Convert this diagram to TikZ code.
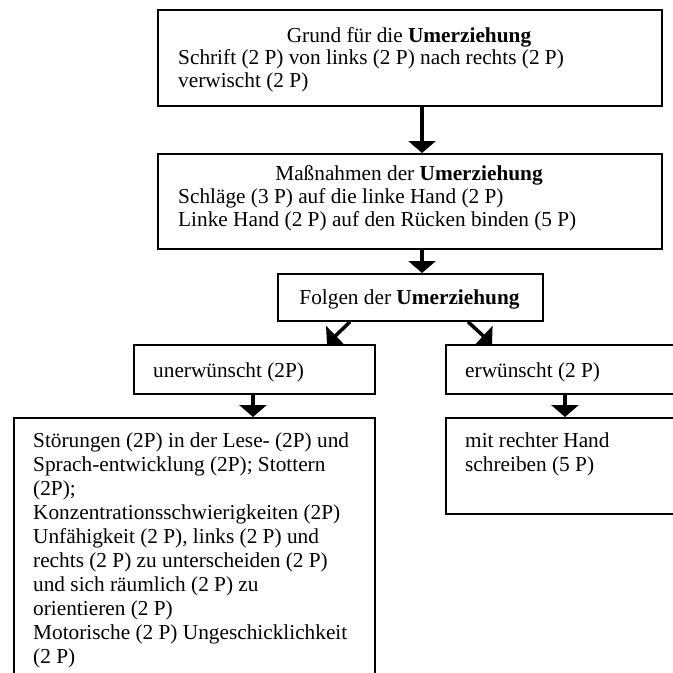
\documentclass[tikz,border=0pt]{standalone}
\usepackage{fontspec}
\setmainfont{Liberation Serif}
\usetikzlibrary{arrows.meta}
\tikzset{
  box/.style={draw=black, line width=1.8pt, anchor=north west, inner sep=0pt},
  txt/.style={inner sep=0pt, align=left, font=\fontsize{21.3}{24}\selectfont},
  arr/.style={line width=3.5pt, -{Triangle[length=12pt,width=27pt]}},
}
\begin{document}
\begin{tikzpicture}[x=1pt,y=-1pt]
\useasboundingbox (0,0) rectangle (673,673);
\clip (0,0) rectangle (673,673);
% boxes
\node[box, minimum width=504pt, minimum height=96pt] (grund) at (157,9) {};
\node[box, minimum width=504pt, minimum height=95pt] (mass) at (157,153) {};
\node[box, minimum width=265pt, minimum height=47pt] (folgen) at (277,273) {};
\node[box, minimum width=241pt, minimum height=49pt] (unerw) at (133,344) {};
\node[box, minimum width=240pt, minimum height=49pt] (erw) at (445,344) {};
\node[box, minimum width=361pt, minimum height=300pt] (stoer) at (13,417) {};
\node[box, minimum width=240pt, minimum height=96pt] (hand) at (445,417) {};
% texts
\node[txt, anchor=base] (t1) at (409,42) {Grund für die \textbf{Umerziehung}};
\node[txt, anchor=base west] (t2) at (178,64.5) {Schrift (2 P) von links (2 P) nach rechts (2 P)};
\node[txt, anchor=base west] (t3) at (178,87) {verwischt (2 P)};
\node[txt, anchor=base] (t4) at (409,180) {Maßnahmen der \textbf{Umerziehung}};
\node[txt, anchor=base west] (t5) at (178,203) {Schläge (3 P) auf die linke Hand (2 P)};
\node[txt, anchor=base west] (t6) at (178,226) {Linke Hand (2 P) auf den Rücken binden (5 P)};
\node[txt, anchor=base] (t7) at (409.5,304) {Folgen der \textbf{Umerziehung}};
\node[txt, anchor=base west] (t8) at (153,377) {unerwünscht (2P)};
\node[txt, anchor=base west] (t9) at (465,377) {erwünscht (2 P)};
\node[txt, anchor=north west] (t10) at (33,430) {\strut Störungen (2P) in der Lese- (2P) und\\
Sprach-entwicklung (2P); Stottern\\
(2P);\\
Konzentrationsschwierigkeiten (2P)\\
Unfähigkeit (2 P), links (2 P) und\\
rechts (2 P) zu unterscheiden (2 P)\\
und sich räumlich (2 P) zu\\
orientieren (2 P)\\
Motorische (2 P) Ungeschicklichkeit\\
(2 P)};
\node[txt, anchor=north west] (t11) at (465,430) {\strut mit rechter Hand\\schreiben (5 P)};
% connectors
\draw[arr] ([xshift=265pt]grund.south west) -- ([xshift=265pt]mass.north west);
\draw[arr] ([xshift=265pt]mass.south west) -- ([xshift=145pt]folgen.north west);
\draw[arr] ([xshift=73pt]folgen.south west) -- ([xshift=194pt]unerw.north west);
\draw[arr] ([xshift=191pt]folgen.south west) -- ([xshift=47pt]erw.north west);
\draw[arr] ([xshift=120pt]unerw.south west) -- ([xshift=240pt]stoer.north west);
\draw[arr] ([xshift=120pt]erw.south west) -- ([xshift=120pt]hand.north west);
\end{tikzpicture}
\end{document}
